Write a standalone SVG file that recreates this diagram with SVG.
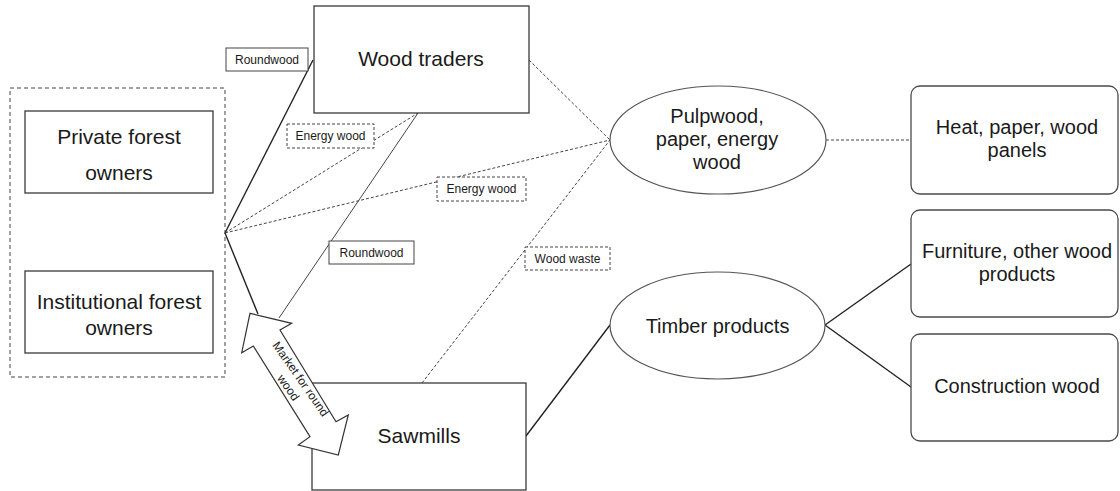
<svg xmlns="http://www.w3.org/2000/svg" width="1120" height="491" viewBox="0 0 1120 491">
<style>
  text { font-family: "Liberation Sans", Arial, sans-serif; fill: #1a1a1a; }
  .big { font-size: 21px; text-anchor: middle; }
  .mid { font-size: 20px; text-anchor: middle; }
  .lbl { font-size: 12px; text-anchor: middle; }
  .box { fill: #fff; stroke: #3a3a3a; stroke-width: 1.3; }
  .rbox { fill: #fff; stroke: #4a4a4a; stroke-width: 1.3; }
  .ell { fill: #fff; stroke: #555; stroke-width: 1.2; }
  .lbox { fill: #fff; stroke: #444; stroke-width: 1; }
  .dlbox { fill: #fff; stroke: #444; stroke-width: 1; stroke-dasharray: 3 2; }
  .solid { fill: none; stroke: #222; stroke-width: 1.4; }
  .thin { fill: none; stroke: #444; stroke-width: 1; }
  .dash { fill: none; stroke: #444; stroke-width: 1; stroke-dasharray: 3 2; }
  .group { fill: none; stroke: #444; stroke-width: 1; stroke-dasharray: 4 3; }
</style>

<g id="forest-owners-group">
  <rect class="group" x="10" y="88" width="215" height="289"/>
</g>

<g id="connectors">
  <line class="solid" x1="225" y1="233" x2="313" y2="60"/>
  <line class="dash" x1="225" y1="233" x2="418" y2="113"/>
  <line class="dash" x1="225" y1="233" x2="610" y2="140"/>
  <line class="solid" x1="225" y1="233" x2="258" y2="314"/>
  <line class="thin" x1="418" y1="113" x2="279" y2="318"/>
  <line class="dash" x1="529" y1="60" x2="610" y2="140"/>
  <line class="dash" x1="422" y1="383" x2="610" y2="140"/>
  <line class="solid" x1="526" y1="436" x2="610" y2="325"/>
  <line class="dash" x1="826" y1="140" x2="911" y2="140"/>
  <line class="solid" x1="825" y1="325" x2="911" y2="264"/>
  <line class="solid" x1="825" y1="325" x2="911" y2="387"/>
</g>

<g id="private-owners">
  <rect class="box" x="25" y="111" width="188" height="82"/>
  <text class="big" x="119" y="144">Private forest</text>
  <text class="big" x="119" y="180">owners</text>
</g>

<g id="institutional-owners">
  <rect class="box" x="25" y="271" width="188" height="82"/>
  <text class="big" x="119" y="309">Institutional forest</text>
  <text class="big" x="119" y="335">owners</text>
</g>

<g id="wood-traders">
  <rect class="box" x="314" y="6" width="215" height="107"/>
  <text class="big" x="421" y="66">Wood traders</text>
</g>

<g id="sawmills">
  <rect class="box" x="312" y="383" width="214" height="107"/>
  <text class="big" x="419" y="443">Sawmills</text>
</g>

<g id="market-arrow">
  <polygon fill="#fff" stroke="#333" stroke-width="1.2" stroke-linejoin="miter" points="250,313.3 291.7,323.3 280,330 336,421.7 348.3,415 338.3,455 298.3,445 310,436.7 253.3,346 241.7,352.7"/>
  <text class="lbl" transform="translate(294.5,383.3) rotate(55)"><tspan x="0" y="-3.5">Market for round</tspan><tspan x="0" y="11.5">wood</tspan></text>
</g>

<g id="pulpwood">
  <ellipse class="ell" cx="718" cy="140" rx="108" ry="54"/>
  <text class="mid" x="717" y="123">Pulpwood,</text>
  <text class="mid" x="717" y="146">paper, energy</text>
  <text class="mid" x="717" y="169">wood</text>
</g>

<g id="timber-products">
  <ellipse class="ell" cx="717.5" cy="325.5" rx="107.5" ry="53.5"/>
  <text class="mid" x="717.5" y="333">Timber products</text>
</g>

<g id="heat-paper">
  <rect class="rbox" x="911" y="86" width="207" height="108" rx="9"/>
  <text class="mid" x="1017" y="134">Heat, paper, wood</text>
  <text class="mid" x="1017" y="157">panels</text>
</g>

<g id="furniture">
  <rect class="rbox" x="911" y="210" width="207" height="107" rx="9"/>
  <text class="mid" x="1017" y="258">Furniture, other wood</text>
  <text class="mid" x="1017" y="281">products</text>
</g>

<g id="construction">
  <rect class="rbox" x="911" y="334" width="207" height="107" rx="9"/>
  <text class="mid" x="1017" y="393">Construction wood</text>
</g>

<g id="label-roundwood-1">
  <rect class="lbox" x="226" y="48" width="82" height="23"/>
  <text class="lbl" x="267" y="64">Roundwood</text>
</g>
<g id="label-energy-1">
  <rect class="dlbox" x="287" y="124" width="87" height="24"/>
  <text class="lbl" x="330.5" y="140">Energy wood</text>
</g>
<g id="label-energy-2">
  <rect class="dlbox" x="437" y="177" width="89" height="24"/>
  <text class="lbl" x="481.5" y="193">Energy wood</text>
</g>
<g id="label-roundwood-2">
  <rect class="lbox" x="329" y="241" width="85" height="23"/>
  <text class="lbl" x="371.5" y="257">Roundwood</text>
</g>
<g id="label-wood-waste">
  <rect class="dlbox" x="525" y="247" width="85" height="23"/>
  <text class="lbl" x="567.5" y="263">Wood waste</text>
</g>
</svg>
